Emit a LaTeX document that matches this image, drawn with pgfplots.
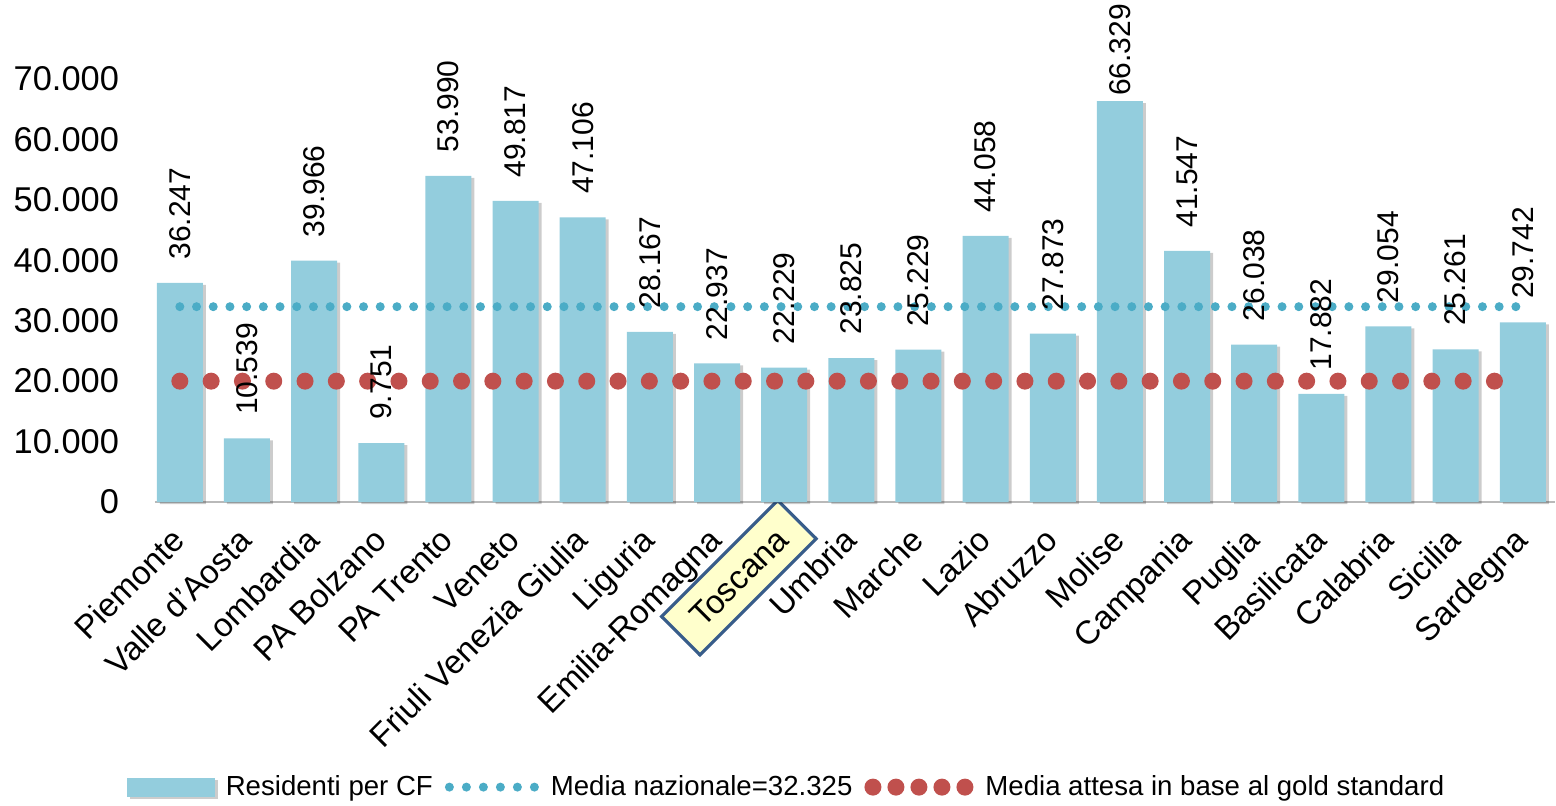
\documentclass[border=0pt]{standalone}
\usepackage{fontspec}
\setmainfont{Liberation Sans}
\usepackage{calc}
\usepackage{pgfplots}
\pgfplotsset{compat=1.18}
\usetikzlibrary{shadows}

\definecolor{barblue}{RGB}{147,205,221}
\definecolor{lineblue}{RGB}{75,172,198}
\definecolor{linered}{RGB}{192,80,77}
\definecolor{boxyellow}{RGB}{255,255,204}
\definecolor{boxblue}{RGB}{56,93,138}

\setlength{\fboxrule}{1.6pt}
\setlength{\fboxsep}{7pt}
% Toscana is boxed, the box must not move the text
\protected\def\tosc{\makebox[\widthof{Toscana}]{\raisebox{0pt}[\heightof{Toscana}][0pt]{\fcolorbox{boxblue}{boxyellow}{\hspace{2.5pt}Toscana\hspace{2.5pt}}}}}
\def\intpart#1.#2\relax{#1}

\begin{document}
\begin{tikzpicture}
\begin{axis}[
  at={(0,0)}, anchor=south west,
  scale only axis,
  width=700pt, height=211.5pt,
  xmin=-0.37, xmax=20.48,
  ymin=0, ymax=70000,
  clip=false,
  axis x line*=bottom, axis y line*=left,
  x axis line style={gray!55, line width=1.2pt, -},
  y axis line style={draw=none},
  xtick={0,...,20},
  xticklabels={Piemonte, Valle d’Aosta, Lombardia, PA Bolzano, PA Trento, Veneto,
    Friuli Venezia Giulia, Liguria, Emilia-Romagna, \tosc, Umbria, Marche, Lazio,
    Abruzzo, Molise, Campania, Puglia, Basilicata, Calabria, Sicilia, Sardegna},
  xticklabel style={font=\fontsize{16.5}{18}\selectfont, xshift=-5pt, yshift=-7pt,
    rotate=45, anchor=north east},
  ytick={0,10000,...,70000},
  scaled y ticks=false,
  yticklabel style={font=\fontsize{17.2}{19}\selectfont, xshift=-14.5pt},
  major tick length=0pt,
  /pgf/number format/fixed,
  /pgf/number format/precision=0,
  /pgf/number format/1000 sep={.},
  /pgf/number format/assume math mode=true,
  legend columns=3,
  legend style={at={(0.4518,-0.674)}, anchor=center, draw=none,
    font=\fontsize{13.8}{16}\selectfont,
    /tikz/every even column/.append style={column sep=4pt},
    /tikz/every odd column/.append style={column sep=3.5pt}},
]
\addplot[ybar, bar width=23pt, fill=barblue, draw=none,
  drop shadow={shadow xshift=1.5pt, shadow yshift=-1pt, opacity=0.2, fill=black},
  nodes near coords,
  visualization depends on={rawy \as \rawy},
  every node near coord/.append style={font=\fontsize{15}{17}\selectfont, black,
    rotate=90, anchor=west, inner ysep=0pt, inner xsep=11.5pt},
  every node near coord/.append code={%
    \ifnum\expandafter\intpart\rawy.\relax>60000 \pgfkeysalso{inner xsep=2.5pt}\fi},
  legend image code/.code={\fill[barblue] (0pt,-4.75pt) rectangle (44pt,4.75pt);}]
coordinates {
  (0,36247) (1,10539) (2,39966) (3,9751) (4,53990) (5,49817) (6,47106)
  (7,28167) (8,22937) (9,22229) (10,23825) (11,25229) (12,44058) (13,27873)
  (14,66329) (15,41547) (16,26038) (17,17882) (18,29054) (19,25261) (20,29742)
};
\addlegendentry{Residenti per CF}

\addplot[sharp plot, no markers, lineblue, line width=4.5pt, line cap=round,
  dash pattern=on 0pt off 8.35pt,
  legend image code/.code={\draw[lineblue, line width=4.5pt, line cap=round,
    dash pattern=on 0pt off 8.5pt] (2pt,0pt) -- (45pt,0pt);}]
coordinates {(0,32325) (20.05,32325)};
\addlegendentry{Media nazionale=32.325}

\addplot[sharp plot, no markers, linered, line width=8.5pt, line cap=round,
  dash pattern=on 0pt off 15.65pt,
  legend image code/.code={\draw[linered, line width=8.5pt, line cap=round,
    dash pattern=on 0pt off 11.5pt] (3pt,0pt) -- (49.5pt,0pt);}]
coordinates {(0,20000) (19.62,20000)};
\addlegendentry{Media attesa in base al gold standard}
\end{axis}
\pgfresetboundingbox
\path (-77.5pt,-151.5pt) rectangle (700.5pt,251pt);
\end{tikzpicture}
\end{document}
